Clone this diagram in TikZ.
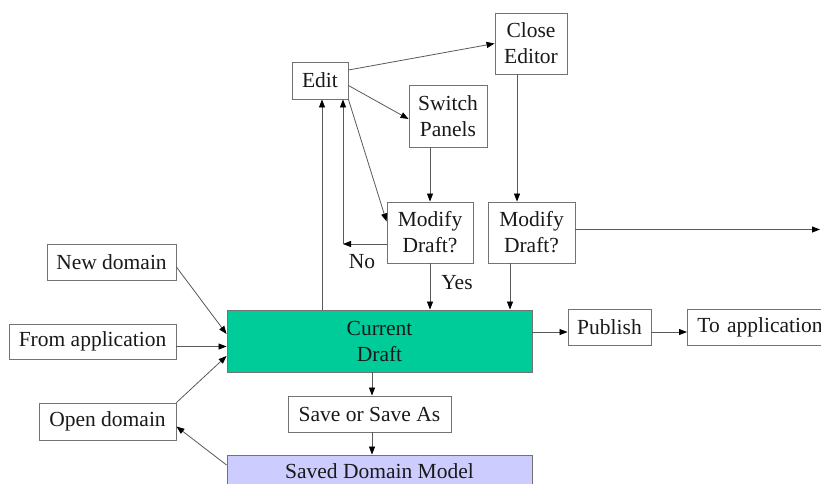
\documentclass[tikz,border=0pt]{standalone}
\usepackage{fontspec}
\setmainfont{Liberation Serif}
\usetikzlibrary{arrows.meta}
\definecolor{draftgreen}{RGB}{0,204,153}
\definecolor{savedblue}{RGB}{204,204,255}
\begin{document}
\begin{tikzpicture}[x=1pt,y=-1pt,
  box/.style={draw=black!55, line width=0.9pt, fill=white, inner sep=0pt,
    align=center, font=\fontsize{21.5}{26}\selectfont, text=black!90},
  lbl/.style={inner sep=0pt, font=\fontsize{21.5}{26}\selectfont, text=black!90},
  flow/.style={draw=black!65, line width=0.8pt,
    -{Triangle[length=8pt,width=6pt,color=black]}},
  plain/.style={draw=black!65, line width=0.8pt}]
\useasboundingbox (0,0) rectangle (821,483);
\clip (0,0) rectangle (821,483);

% editing loop
\node[box, minimum width=56pt, minimum height=37pt] (edit) at (320,80.5) {Edit};
\node[box, minimum width=72pt, minimum height=61pt] (close) at (531,43.5) {Close\\Editor};
\node[box, minimum width=78pt, minimum height=62pt] (switch) at (448,116) {Switch\\Panels};
\node[box, minimum width=86pt, minimum height=61pt] (md1) at (430,232.5) {Modify\\Draft?};
\node[box, minimum width=87pt, minimum height=61pt] (md2) at (531.5,232.5) {Modify\\Draft?};

% sources on the left
\node[box, minimum width=129pt, minimum height=36pt] (newd) at (111.5,262) {New domain};
\node[box, minimum width=167pt, minimum height=35pt] (froma) at (92.5,341.5) {From application};
\node[box, minimum width=137pt, minimum height=37pt] (opend) at (107.5,421.5) {Open domain};

% central draft and storage
\node[box, fill=draftgreen, minimum width=305pt, minimum height=62pt] (cd) at (379.5,341) {Current\\Draft};
\node[box, minimum width=163pt, minimum height=36pt] (save) at (369.5,414) {Save or Save As};
\node[box, fill=savedblue, minimum width=305pt, minimum height=32pt] (sdm) at (379.5,471) {Saved Domain Model};

% publishing
\node[box, minimum width=83pt, minimum height=36pt] (pub) at (609.5,327) {Publish};
\node[box, anchor=west, minimum width=160pt, minimum height=36pt, inner xsep=10pt, align=left, text width=140pt] (toapp) at (687,327) {To application};

\coordinate (noc) at (343,244);
\coordinate (exit) at (820,229.5);

% connectors of the editing loop
\draw[flow] ([yshift=10.5pt]edit.east) -- (close.west);
\draw[flow] ([yshift=-5pt]edit.east) -- ([yshift=-3pt]switch.west);
\draw[flow] (md1.north |- switch.south) -- (md1.north);
\draw[flow] ([xshift=-14pt]close.south) -- ([xshift=-14pt]close.south |- md2.north);
\draw[flow] (edit.south east) -- ([yshift=11pt]md1.west);
\draw[flow] ([yshift=-11.5pt]md1.west) -- (noc);
\draw[flow] (noc) -- (noc |- edit.south);
\draw[flow] ([xshift=2pt]edit.south |- cd.north) -- ([xshift=2pt]edit.south);
\draw[flow] (md1.south) -- (md1.south |- cd.north);
\draw[flow] ([xshift=-21.5pt]md2.south) -- ([xshift=-21.5pt]md2.south |- cd.north);
\draw[flow] ([yshift=3pt]md2.east) -- (exit);
\node[lbl] (nolbl) at (362,262) {No};
\node[lbl] (yeslbl) at (457,283) {Yes};

% inputs to the draft
\draw[flow] ([yshift=-5pt]newd.east) -- ([yshift=7pt]cd.west);
\draw[flow] ([yshift=-5pt]froma.east) -- ([yshift=-5pt]froma.east -| cd.west);
\draw[flow] (opend.north east) -- ([yshift=-15pt]cd.west);
\draw[flow] ([yshift=6pt]sdm.west) -- ([yshift=-5pt]opend.east);

% saving and publishing
\draw[flow] ([xshift=2.5pt]save.north |- cd.south) -- ([xshift=2.5pt]save.north);
\draw[flow] ([xshift=2.5pt]save.south) -- ([xshift=2.5pt]save.south |- sdm.north);
\draw[flow] ([yshift=-5pt]pub.west -| cd.east) -- ([yshift=-5pt]pub.west);
\draw[flow] ([yshift=-5pt]pub.east) -- ([yshift=-5pt]pub.east -| toapp.west);
\end{tikzpicture}
\end{document}
